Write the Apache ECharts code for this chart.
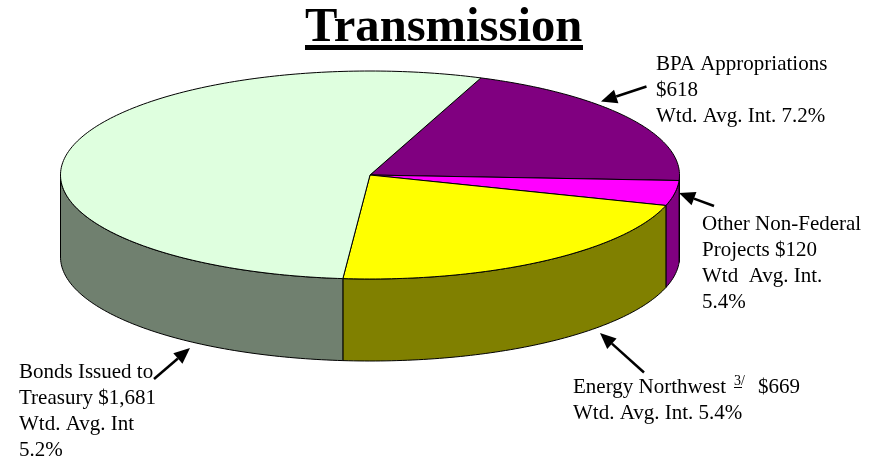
<!DOCTYPE html>
<html>
<head>
<meta charset="utf-8">
<script src="https://cdn.jsdelivr.net/npm/echarts@6/dist/echarts.min.js"></script>
<style>
  html, body { margin: 0; padding: 0; background: #fff; }
  #main { width: 882px; height: 458px; }
</style>
</head>
<body>
<div id="main"></div>
<script>
const categories = ['BPA Appropriations', 'Other Non-Federal Projects', 'Energy Northwest', 'Bonds Issued to Treasury'];
const amounts = [618, 120, 669, 1681];
const rates = ['7.2%', '5.4%', '5.4%', '5.2%'];

const topColors = ['#800080', '#ff00ff', '#ffff00', '#dfffdf'];
const wallColors = ['#800080', '#800080', '#808000', '#70806f'];

// ellipse of the pie top, in pixels
const pie = { cx: 370, cy: 175, rx: 309.5, ry: 104, depth: 82, start: 69 };
const total = amounts.reduce(function (a, b) { return a + b; }, 0);

function sliceAngles(idx) {
  let before = 0;
  for (let i = 0; i < idx; i++) before += amounts[i];
  return [pie.start - before / total * 360, pie.start - (before + amounts[idx]) / total * 360];
}

function rimPoint(deg, drop) {
  const t = deg * Math.PI / 180;
  return [pie.cx + pie.rx * Math.cos(t), pie.cy - pie.ry * Math.sin(t) + drop];
}

function arcPoints(from, to, drop) {
  const pts = [];
  const steps = Math.max(1, Math.ceil(Math.abs(to - from)));
  for (let i = 0; i <= steps; i++) pts.push(rimPoint(from + (to - from) * i / steps, drop));
  return pts;
}

function renderTop(params, api) {
  const a = sliceAngles(api.value(0));
  return {
    type: 'polygon',
    shape: { points: [[pie.cx, pie.cy]].concat(arcPoints(a[0], a[1], 0)) },
    style: { fill: topColors[api.value(0)], stroke: '#000', lineWidth: 1 }
  };
}

function renderWall(params, api) {
  const idx = api.value(0);
  const a = sliceAngles(idx);
  // only the front half of the rim shows, angles -180..0
  const from = Math.min(a[0], 0);
  const to = Math.max(a[1], -180);
  if (from <= to) return null;
  return {
    type: 'polygon',
    shape: { points: arcPoints(from, to, 0).concat(arcPoints(to, from, pie.depth)) },
    style: { fill: wallColors[idx], stroke: '#000', lineWidth: 1 }
  };
}

const sliceData = amounts.map(function (v, i) { return [i, v]; });

const serif = '"Liberation Serif", "Times New Roman", serif';

function label(x, y, lines) {
  return {
    type: 'text', x: x, y: y, silent: true,
    style: { text: lines.join('\n'), fill: '#000', font: '21px ' + serif, lineHeight: 25.9 }
  };
}

function arrow(x1, y1, x2, y2) {
  const ang = Math.atan2(y2 - y1, x2 - x1);
  const len = 16, half = 7;
  const bx = x2 - len * Math.cos(ang), by = y2 - len * Math.sin(ang);
  const nx = -Math.sin(ang) * half, ny = Math.cos(ang) * half;
  return [
    { type: 'line', silent: true, shape: { x1: x1, y1: y1, x2: bx, y2: by }, style: { stroke: '#000', lineWidth: 2.5 } },
    { type: 'polygon', silent: true, shape: { points: [[x2, y2], [bx + nx, by + ny], [bx - nx, by - ny]] }, style: { fill: '#000' } }
  ];
}

const myChart = echarts.init(document.getElementById('main'), null, { renderer: 'canvas' });

const option = {
  animation: false,
  backgroundColor: '#fff',
  title: {
    text: 'Transmission',
    left: 305,
    top: 2,
    padding: 0,
    textStyle: { fontFamily: serif, fontWeight: 'bold', fontSize: 48.6, color: '#000', lineHeight: 52 }
  },
  series: [
    { type: 'custom', name: 'walls', coordinateSystem: 'none', renderItem: renderWall, data: sliceData, silent: true, z: 1 },
    { type: 'custom', name: 'tops', coordinateSystem: 'none', renderItem: renderTop, data: sliceData, silent: true, z: 2 }
  ],
  graphic: {
    elements: [
      { type: 'rect', silent: true, shape: { x: 305, y: 45, width: 278, height: 5 }, style: { fill: '#000' } },
      label(656, 52, [categories[0], '$' + amounts[0], 'Wtd. Avg. Int. ' + rates[0]]),
      label(702, 211.5, ['Other Non-Federal', 'Projects $' + amounts[1], 'Wtd  Avg. Int.', rates[1]]),
      label(19, 359.5, ['Bonds Issued to', 'Treasury $1,681', 'Wtd. Avg. Int', rates[3]]),
      label(573, 374.5, [categories[2], 'Wtd. Avg. Int. ' + rates[2]]),
      { type: 'text', x: 734, y: 374, silent: true, style: { text: '3/', fill: '#000', font: '14px ' + serif } },
      { type: 'rect', silent: true, shape: { x: 734, y: 387, width: 8, height: 1 }, style: { fill: '#000' } },
      { type: 'text', x: 758, y: 374.5, silent: true, style: { text: '$' + amounts[2], fill: '#000', font: '21px ' + serif, lineHeight: 25.9 } }
    ].concat(
      arrow(646.5, 86.5, 601, 101.5),
      arrow(714, 206, 679, 193),
      arrow(644, 372.5, 600, 333),
      arrow(154, 379, 190, 348)
    )
  }
};

myChart.setOption(option);
</script>
</body>
</html>
